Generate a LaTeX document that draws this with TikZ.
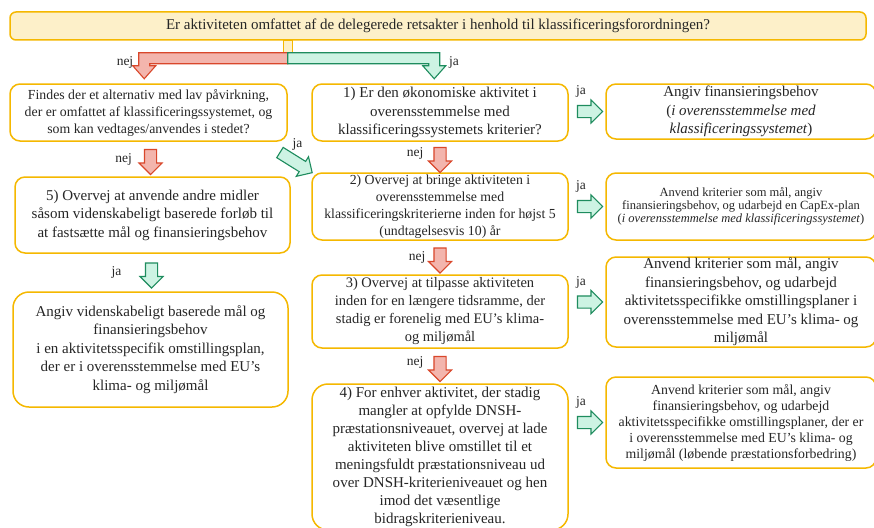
\documentclass[tikz,border=0pt]{standalone}
\usepackage{fontspec}
\setmainfont{Liberation Serif}
\usetikzlibrary{shapes.arrows,calc,positioning}

\definecolor{boksgul}{HTML}{F5B800}
\definecolor{topgul}{HTML}{FDF0C9}
\definecolor{nejrod}{HTML}{D9472B}
\definecolor{nejfyld}{HTML}{F3B5AD}
\definecolor{jagron}{HTML}{1E8C5E}
\definecolor{jafyld}{HTML}{CDF3E3}
\definecolor{tekst}{HTML}{262626}

\newcommand{\apo}{\char"0027\relax}

\tikzset{
    boks/.style={draw=boksgul, line width=1.5pt, rounded corners=10pt, align=center,
        inner sep=0pt, text=tekst, font=\fontsize{15}{18.5}\selectfont},
    pil/.style={single arrow, inner xsep=0pt, inner ysep=5.5pt, minimum height=25pt,
        single arrow head extend=5.5pt, line width=1.1pt},
    nejpil/.style={pil, draw=nejrod, fill=nejfyld},
    japil/.style={pil, draw=jagron, fill=jafyld},
    lbl/.style={text=tekst, font=\fontsize{13.5}{15}\selectfont}
}

\begin{document}
\begin{tikzpicture}[x=1pt, y=-1pt]
    \useasboundingbox (0,0) rectangle (874,527);
    \fill[white] (0,0) rectangle (874,527);
    \clip (0,0) rectangle (874,527);

    % spoergsmaal
    \node[boks, fill=topgul, rounded corners=6pt, minimum width=856pt, minimum height=28pt,
        font=\fontsize{15}{17}\selectfont] (top) at (438,26)
        {Er aktiviteten omfattet af de delegerede retsakter i henhold til klassificeringsforordningen?};

    % venstre spor
    \node[boks, minimum width=277pt, minimum height=57pt, font=\fontsize{13.8}{17}\selectfont] (l1) at (148.5,112.5)
        {Findes der et alternativ med lav påvirkning,\\ der er omfattet af klassificeringssystemet, og\\ som kan vedtages/anvendes i stedet?};
    \node[boks, minimum width=275pt, minimum height=76pt] (l2) at (152.5,215)
        {5) Overvej at anvende andre midler\\ såsom videnskabeligt baserede forløb til\\ at fastsætte mål og finansieringsbehov};
    \node[boks, rounded corners=16pt, minimum width=275pt, minimum height=115pt] (l3) at (150.5,349.5)
        {Angiv videnskabeligt baserede mål og\\ finansieringsbehov\\ i en aktivitetsspecifik omstillingsplan,\\ der er i overensstemmelse med EU\apo s\\ klima- og miljømål};

    % midterste spor
    \node[boks, minimum width=256pt, minimum height=57pt] (m1) at (440,112.5)
        {1) Er den økonomiske aktivitet i\\ overensstemmelse med\\ klassificeringssystemets kriterier?};
    \node[boks, minimum width=256pt, minimum height=67pt, font=\fontsize{13.8}{17}\selectfont] (m2) at (440,206.5)
        {2) Overvej at bringe aktiviteten i\\ overensstemmelse med\\ klassificeringskriterierne inden for højst 5\\ (undtagelsesvis 10) år};
    \node[boks, minimum width=256pt, minimum height=73pt, font=\fontsize{14.5}{18}\selectfont] (m3) at (440,311.5)
        {3) Overvej at tilpasse aktiviteten\\ inden for en længere tidsramme, der\\ stadig er forenelig med EU\apo s klima-\\ og miljømål};
    \node[boks, rounded corners=16pt, minimum width=256pt, minimum height=146pt, font=\fontsize{15}{18}\selectfont] (m4) at (440,457)
        {4) For enhver aktivitet, der stadig\\ mangler at opfylde DNSH-\\ præstationsniveauet, overvej at lade\\ aktiviteten blive omstillet til et\\ meningsfuldt præstationsniveau ud\\ over DNSH-kriterieniveauet og hen\\ imod det væsentlige\\ bidragskriterieniveau.};

    % hoejre spor
    \node[boks, minimum width=270pt, minimum height=55pt] (r1) at (741,111.5)
        {Angiv finansieringsbehov\\ (\textit{i overensstemmelse med}\\ \textit{klassificeringssystemet})};
    \node[boks, minimum width=270pt, minimum height=67pt, font=\fontsize{12.5}{13}\selectfont] (r2) at (741,206.5)
        {Anvend kriterier som mål, angiv\\ finansieringsbehov, og udarbejd en CapEx-plan\\ (\textit{i overensstemmelse med klassificeringssystemet})};
    \node[boks, minimum width=270pt, minimum height=90pt] (r3) at (741,302)
        {Anvend kriterier som mål, angiv\\ finansieringsbehov, og udarbejd\\ aktivitetsspecifikke omstillingsplaner i\\ overensstemmelse med EU\apo s klima- og\\ miljømål};
    \node[boks, minimum width=270pt, minimum height=91pt, font=\fontsize{13.8}{16}\selectfont] (r4) at (741,422.5)
        {Anvend kriterier som mål, angiv\\ finansieringsbehov, og udarbejd\\ aktivitetsspecifikke omstillingsplaner, der er\\ i overensstemmelse med EU\apo s klima- og\\ miljømål (løbende præstationsforbedring)};

    % forgrening fra spoergsmaalet
    \coordinate (stem) at (top.south -| l1.east);
    \draw[draw=boksgul, fill=topgul, line width=1.1pt] ($(stem)+(-4.5,0)$) rectangle ++(9,12);
    \draw[draw=nejrod, fill=nejfyld, line width=1.1pt] (stem) ++(0,12) -- ++(-149,0) -- ++(0,13)
        -- ++(-6,0) -- ++(11.5,13) -- ++(11.5,-13) -- ++(-6,0) -- ++(0,-2) -- ++(138,0) -- cycle;
    \draw[draw=jagron, fill=jafyld, line width=1.1pt] (stem) ++(0,12) -- ++(152,0) -- ++(0,13)
        -- ++(6,0) -- ++(-11.5,13) -- ++(-11.5,-13) -- ++(6,0) -- ++(0,-2) -- ++(-141,0) -- cycle;
    \node[lbl] at (125,62) {nej};
    \node[lbl] at (454,62) {ja};

    % pile ned
    \node[nejpil, rotate=-90] (p1) at ($(l1.south)!.5!(l2.north)$) {};
    \node[japil, rotate=-90] (p2) at ($(l2.south)!.5!(l3.north)$) {};
    \node[nejpil, rotate=-90] (p3) at ($(m1.south)!.5!(m2.north)$) {};
    \node[nejpil, rotate=-90] (p4) at ($(m2.south)!.5!(m3.north)$) {};
    \node[nejpil, rotate=-90] (p5) at ($(m3.south)!.5!(m4.north)$) {};
    \node[lbl] at ($(p1)+(-27,0)$) {nej};
    \node[lbl] at ($(p2)+(-35,0)$) {ja};
    \node[lbl] at ($(p3)+(-25,-4)$) {nej};
    \node[lbl] at ($(p4)+(-23,0)$) {nej};
    \node[lbl] at ($(p5)+(-25,-4)$) {nej};

    % pile til hoejre
    \foreach \i in {1,...,4} {
        \node[japil] (h\i) at ($(m\i.east |- r\i.west)!.5!(r\i.west)$) {};
        \node[lbl] at ($(h\i)+(-6,-20)$) {ja};
    }

    % skraa pil
    \node[japil, rotate=-32, minimum height=38pt] (d1) at ($(l1.south east)!.5!(m2.north west)+(-6,4)$) {};
    \node[lbl] at ($(d1)+(4,-17)$) {ja};
\end{tikzpicture}
\end{document}
